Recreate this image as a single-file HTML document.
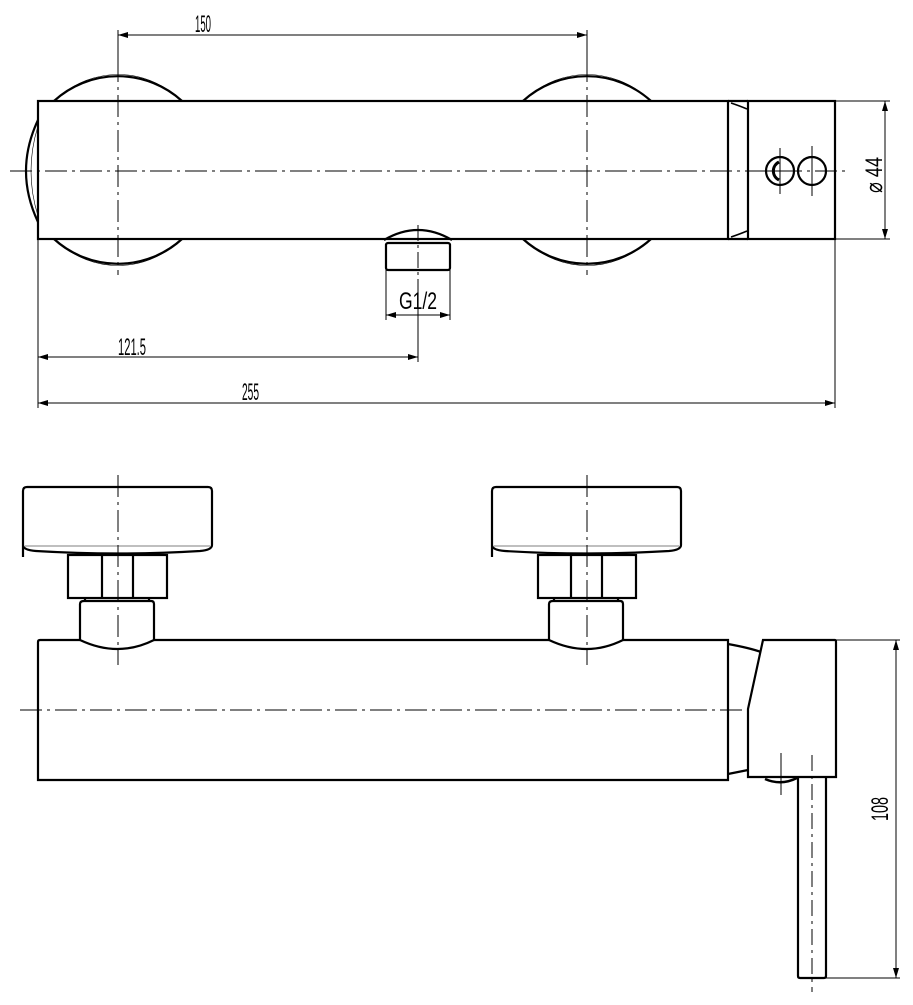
<!DOCTYPE html>
<html><head><style>html,body{margin:0;padding:0;background:#fff}</style></head>
<body>
<svg width="913" height="1000" viewBox="0 0 913 1000" xmlns="http://www.w3.org/2000/svg">
<defs>
<marker id="a" viewBox="0 0 10 6" refX="10" refY="3" markerWidth="10" markerHeight="6" markerUnits="userSpaceOnUse" orient="auto-start-reverse"><path d="M0,0 L10,3 L0,6 z" fill="#000"/></marker>
</defs>
<g fill="none" stroke="#000" stroke-width="2.2">
<!-- TOP VIEW -->
<path d="M54,101 A95,95 0 0 1 182,101"/>
<path d="M54,239 A95,95 0 0 0 182,239"/>
<path d="M523,101 A95,95 0 0 1 651,101"/>
<path d="M523,239 A95,95 0 0 0 651,239"/>
<path d="M38,120 Q14,171 38,222"/>
<rect x="38" y="101" width="690" height="138"/>
<path d="M384,240 Q418,220 452,240"/>
<rect x="386" y="243" width="64" height="27" rx="2"/>
<path d="M728,101 L748,101 M728,239 L748,239"/>
<path d="M731,103 Q740,106 747,109 M731,237 Q740,234 747,231" stroke-width="1.5"/>
<rect x="748" y="101" width="87" height="138"/>
<circle cx="780" cy="171" r="14"/>
<circle cx="812" cy="171" r="14"/>
<path d="M779,162 A10,10 0 0 0 779,180" stroke-width="3"/>
<!-- BOTTOM VIEW -->
<path d="M23,557 L23,491 Q23,487 27,487 L208,487 Q212,487 212,491 L212,545 Q212,550 200,551 Q118,556 36,551 Q23,550 23,545"/>
<rect x="68" y="555" width="99" height="43"/>
<path d="M102,555 V598 M133,555 V598"/>
<path d="M85,598 V601 M149,598 V601"/>
<path d="M80,640 V604 Q80,601 84,601 L151,601 Q154,601 154,604 V640 Q118,658 80,640"/>
<path d="M492,557 L492,491 Q492,487 496,487 L677,487 Q681,487 681,491 L681,545 Q681,550 669,551 Q587,556 505,551 Q492,550 492,545"/>
<rect x="538" y="555" width="98" height="43"/>
<path d="M571,555 V598 M602,555 V598"/>
<path d="M554,598 V601 M618,598 V601"/>
<path d="M549,640 V604 Q549,601 553,601 L620,601 Q623,601 623,604 V640 Q587,658 549,640"/>
<path d="M80,640 L40,640 Q38,640 38,642 V780 H728 V640 H623"/>
<path d="M154,640 H549"/>
<path d="M728,644 Q750,648 761,652 M728,774 L748,770"/>
<path d="M763,640 L835,640 Q836,640 836,642 V777 L748,777 V709 Z"/>
<path d="M798,777 V976 Q798,978 800,978 L824,978 Q826,978 826,976 V777"/>
<path d="M765,779 Q781,786 797,778" stroke-width="2.5"/>
</g>
<g fill="none" stroke="#000" stroke-width="0.6">
<path d="M60,96 A89,89 0 0 1 176,96 M60,244 A89,89 0 0 0 176,244"/>
<path d="M529,96 A89,89 0 0 1 645,96 M529,244 A89,89 0 0 0 645,244"/>
<path d="M38,126 Q24,171 38,216"/>
<path d="M25,546 H210 M494,546 H679"/>
</g>
<g fill="none" stroke="#000" stroke-width="1">
<path d="M10,171 H850" stroke-dasharray="22,5,3,5"/>
<path d="M118,60 V275 M587,60 V275" stroke-dasharray="22,5,3,5"/>
<path d="M418,225 V282" stroke-dasharray="16,4,3,4"/>
<path d="M780,148 V194 M757,171 H800 M812,146 V196"/>
<path d="M118,475 V665 M587,475 V665" stroke-dasharray="22,5,3,5"/>
<path d="M20,710 H748" stroke-dasharray="22,5,3,5"/>
<path d="M812,755 V992" stroke-dasharray="16,5,3,5"/>
<path d="M781,753 V795"/>
<path d="M118,30 V60 M587,30 V60"/>
<path d="M118,35 H587" marker-start="url(#a)" marker-end="url(#a)"/>
<path d="M835,101 H890 M835,239 H890"/>
<path d="M885,101 V239" marker-start="url(#a)" marker-end="url(#a)"/>
<path d="M386,270 V320 M450,270 V320"/>
<path d="M386,315 H450" marker-start="url(#a)" marker-end="url(#a)"/>
<path d="M418,282 V362"/>
<path d="M38,357 H418" marker-start="url(#a)" marker-end="url(#a)"/>
<path d="M38,239 V408 M835,239 V408"/>
<path d="M38,403 H835" marker-start="url(#a)" marker-end="url(#a)"/>
<path d="M836,640 H900 M826,978 H900"/>
<path d="M896,640 V978" marker-start="url(#a)" marker-end="url(#a)"/>
</g>
<g font-family="Liberation Sans, sans-serif" font-size="24" fill="#000">
<text x="195" y="32" textLength="16" lengthAdjust="spacingAndGlyphs">150</text>
<text x="118" y="355" textLength="28" lengthAdjust="spacingAndGlyphs">121.5</text>
<text x="242" y="400" textLength="17" lengthAdjust="spacingAndGlyphs">255</text>
<text x="399" y="309" textLength="38" lengthAdjust="spacingAndGlyphs">G1/2</text>
<text transform="translate(882,193) rotate(-90)" textLength="36" lengthAdjust="spacingAndGlyphs">⌀ 44</text>
<text transform="translate(888,821) rotate(-90)" textLength="24" lengthAdjust="spacingAndGlyphs">108</text>
</g>
</svg>
</body></html>
